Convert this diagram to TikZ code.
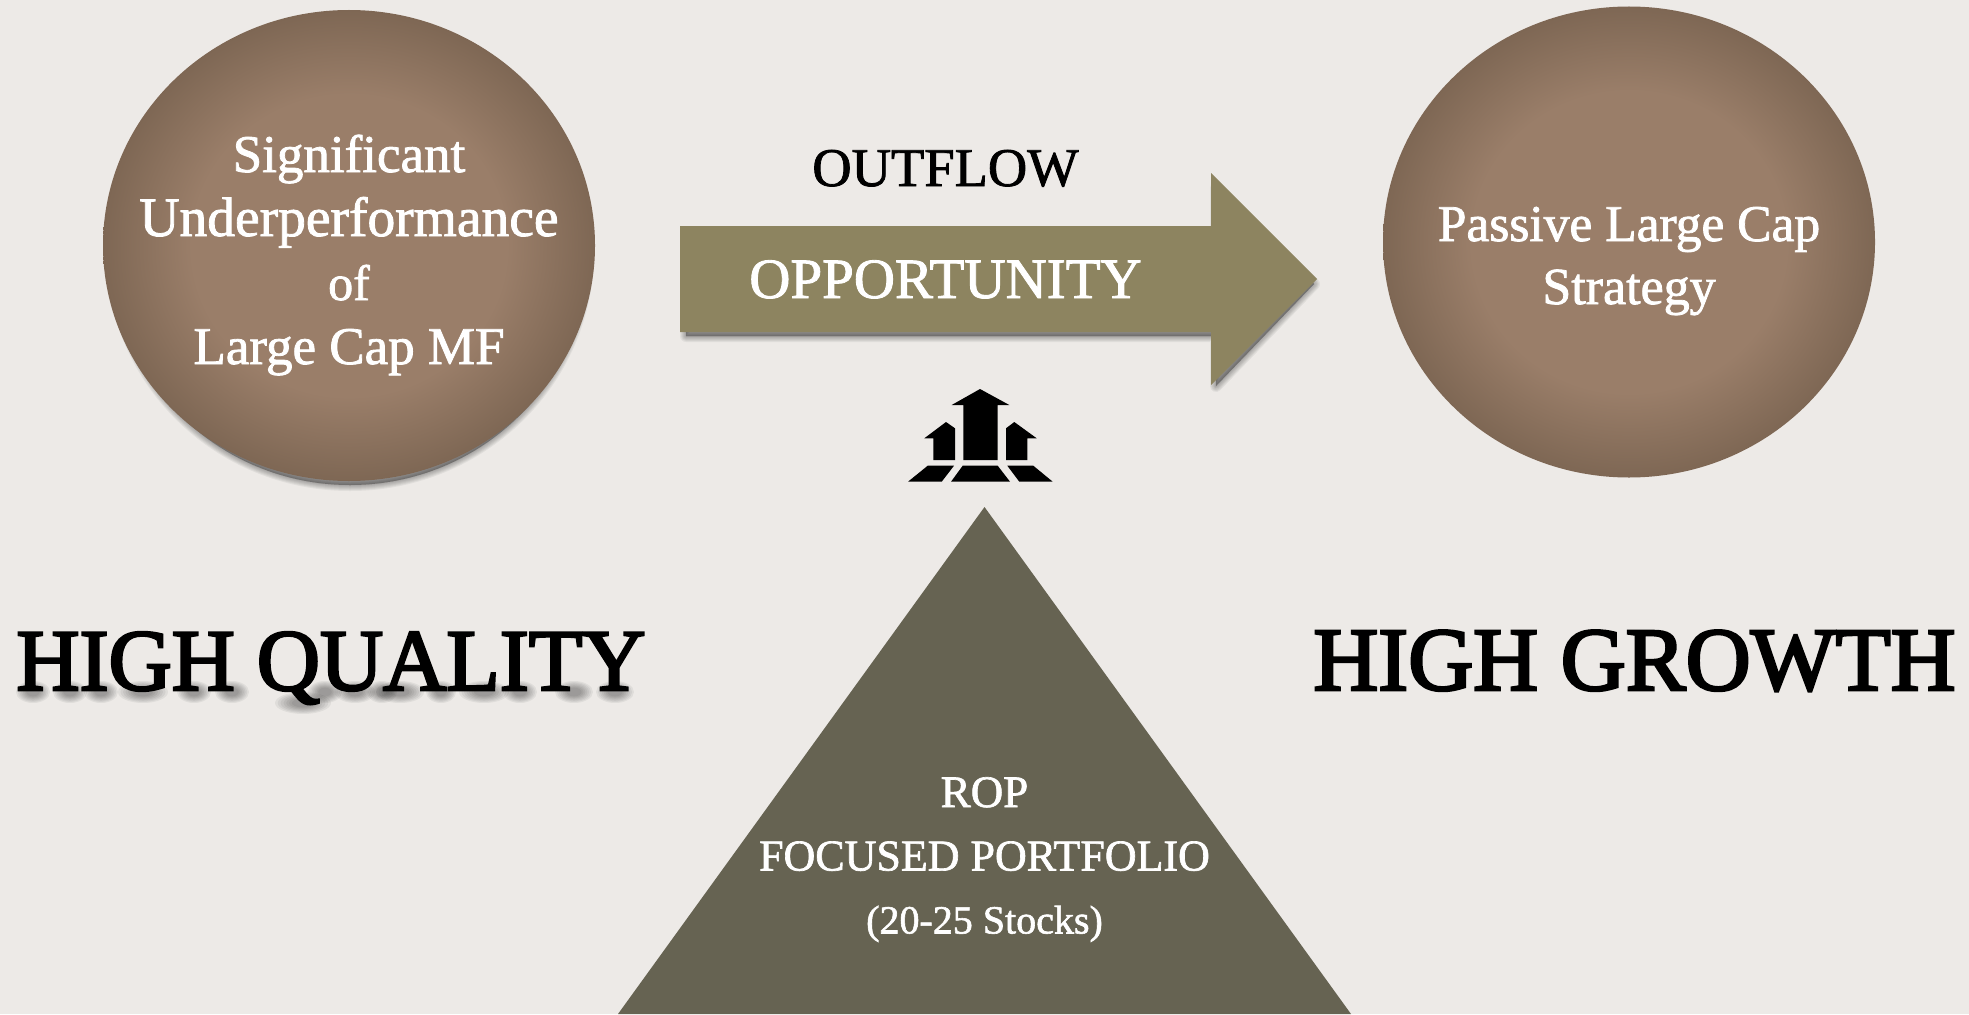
\documentclass[tikz,border=0pt]{standalone}
\usepackage{fontspec}
\setmainfont[FakeBold=1.5]{Liberation Serif}
\newfontfamily\heavyfont[FakeBold=3]{Liberation Serif}
\usetikzlibrary{shapes.geometric}
\definecolor{bgc}{HTML}{EDEAE7}
\definecolor{brin}{HTML}{9A7E69}
\definecolor{brout}{HTML}{7E6754}
\definecolor{olive}{HTML}{8D8460}
\definecolor{dark}{HTML}{666352}
\pgfdeclareradialshading{brownglow}{\pgfpoint{0bp}{0bp}}{color(0bp)=(brin); color(16bp)=(brin); color(25bp)=(brout); color(50bp)=(brout)}
\newcommand{\softshadow}[1]{%
  \foreach \dd in {12,10,8,6,4,2,0.1}{%
    \filldraw[black,fill opacity=0.05,draw opacity=0.05,line join=round,line width=\dd pt] #1;
  }%
}
% soft patch under the foot of a heading letter: centre x, half width, y
\newcommand{\footblob}[3]{%
  \foreach \kk in {1,0.9,0.8,0.7,0.6,0.5,0.4}{%
    \fill[black,opacity=0.055] (#1,#3) ellipse [x radius={(#2+4)*\kk*1pt},y radius={11*\kk*1pt}];
  }%
}
\newcommand{\fs}[1]{\fontsize{#1}{64}\selectfont}
\tikzset{
  bubble/.style={ellipse,minimum width=492pt,minimum height=471pt,inner sep=0pt,shading=brownglow},
  wlabel/.style={text=white,anchor=base,inner sep=0pt},
  big/.style={inner sep=0pt,text=black,anchor=base},
  icon/.style={fill=black}
}
\begin{document}
\begin{tikzpicture}[x=1pt,y=-1pt]
\useasboundingbox (0,0) rectangle (1969,1014);
\fill[bgc] (0,0) rectangle (1969,1014);
% left circle
\softshadow{(350,252) ellipse [x radius=238pt,y radius=233pt]}
\node[bubble] (left) at (349,245.5) {};
\node[wlabel,font=\fs{53}] (l1) at (349,172) {Significant};
\node[wlabel,font=\fs{55.5}] (l2) at (349,236) {Underperformance};
\node[wlabel,font=\fs{50}] (l3) at (349,300) {of};
\node[wlabel,font=\fs{53}] (l4) at (349,364) {Large Cap MF};
% right circle
\node[bubble] (right) at (1629,242) {};
\node[wlabel,font=\fs{51.5}] (r1) at (1629,241) {Passive Large Cap};
\node[wlabel,font=\fs{52}] (r2) at (1629,304) {Strategy};
% arrow
\softshadow{(686,234) -- (1216,234) -- (1216,188) -- (1314,284) -- (1216,386) -- (1216,336) -- (686,336) -- cycle}
\fill[olive] (680,226) -- (1211,226) -- (1211,173) -- (1317,279) -- (1211,385) -- (1211,332) -- (680,332) -- cycle;
\node[wlabel,font=\fs{57}] (opp) at (945.5,298) {OPPORTUNITY};
\node[font=\fs{54.5},text=black,inner sep=0pt,anchor=base] (outflow) at (945.5,186) {OUTFLOW};
% icon
\fill[icon] (980,389) -- (1009.3,405) -- (997.7,405) -- (997.7,460) -- (963.3,460) -- (963.3,405) -- (951.7,405) -- cycle;
\fill[icon] (946,422) -- (955,428.3) -- (955,460) -- (933.3,460) -- (933.3,438.3) -- (924.3,438.3) -- cycle;
\fill[icon] (1014.3,422) -- (1036.7,438.3) -- (1027.3,438.3) -- (1027.3,460) -- (1006,460) -- (1006,428.3) -- cycle;
\fill[icon] (927.7,465.7) -- (954,465.7) -- (941.7,481.7) -- (908,481.7) -- cycle;
\fill[icon] (962.7,465.7) -- (997.7,465.7) -- (1010,481.7) -- (951,481.7) -- cycle;
\fill[icon] (1007.3,465.7) -- (1033.3,465.7) -- (1052.7,481.7) -- (1019.3,481.7) -- cycle;
% triangle
\fill[dark] (984.5,507) -- (1351,1014) -- (618,1014) -- cycle;
\node[wlabel,font=\fs{45}] (rop1) at (984.5,807) {ROP};
\node[wlabel,font=\fs{44}] (rop2) at (984.5,870.5) {FOCUSED PORTFOLIO};
\node[wlabel,font=\fs{40}] (rop3) at (984.5,933.5) {(20-25 Stocks)};
% heading shadow
\foreach \cx/\hw in {33/13,70/13,101/13,143/21,194/13,232/13,400/20,325/13,355/16,382/11,441/11,484/21,520/13,574/15,615/15}{
  \footblob{\cx}{\hw}{692}
}
\footblob{303}{24}{703}
% headings
\node[big,font=\heavyfont\fontsize{87.5}{90}\selectfont] (hq) at (331,690) {HIGH QUALITY};
\node[big,font=\heavyfont\fontsize{90}{90}\selectfont] (hg) at (1634.5,690) {HIGH GROWTH};
\end{tikzpicture}
\end{document}
